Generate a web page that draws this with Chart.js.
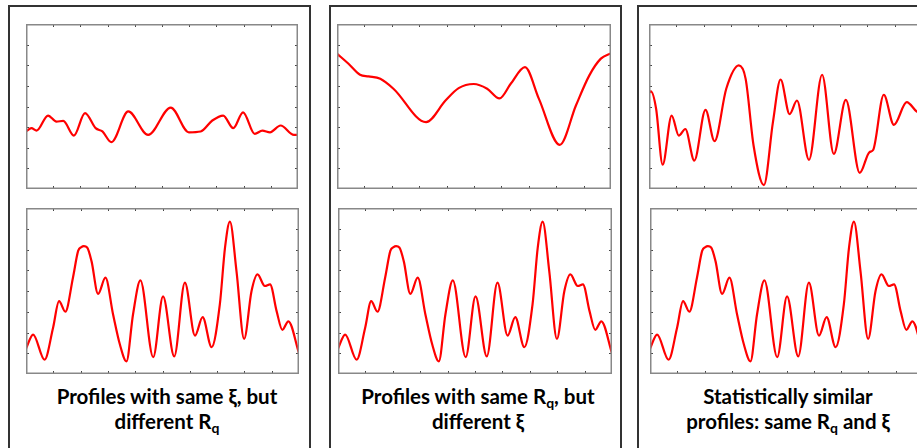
<!DOCTYPE html>
<html>
<head>
<meta charset="utf-8">
<script src="https://cdn.jsdelivr.net/npm/chart.js@4.4.1/dist/chart.umd.min.js"></script>
<style>
  body { margin: 0; background: #fff; }
  #stage { position: relative; width: 917px; height: 448px; overflow: hidden; background: #fff; }
  .frame { position: absolute; border: 2px solid #333; border-bottom: none; }
  .plot { position: absolute; }
  .caption { position: absolute; width: 320px; text-align: center; font-family: Lato, "Open Sans", sans-serif;
             font-weight: bold; font-size: 20.5px; line-height: 25px; color: #000; white-space: nowrap; }
  .caption sub { font-size: 14px; vertical-align: -4px; line-height: 0; }
</style>
</head>
<body>
<div id="stage"></div>
<script>
// profile 1: short correlation length, small Rq
const flatX = [0, 0.2, 0.39, 0.81, 1.12, 1.37, 1.76, 2.17, 2.56, 2.81, 3.14, 3.76, 4.49, 5.32, 5.99, 6.42, 6.85, 7.25, 7.62, 7.98, 8.41, 8.69, 8.97, 9.36, 9.85, 10];
const flatY = [2.79, 2.95, 2.83, 3.56, 3.27, 3.30, 2.59, 3.68, 2.95, 2.79, 2.27, 3.76, 2.62, 3.95, 2.75, 2.79, 3.32, 3.56, 2.95, 3.72, 2.67, 2.83, 2.75, 3.08, 2.62, 2.62];

// profile 2: same Rq, long correlation length
const longX = [0, 0.42, 0.84, 1.15, 1.58, 2.06, 3.25, 3.96, 4.44, 4.99, 5.48, 5.93, 6.34, 6.86, 7.37, 8.13, 8.72, 9.21, 9.63, 10];
const longY = [6.56, 6.07, 5.54, 5.46, 5.34, 4.86, 3.24, 4.29, 4.89, 5.09, 4.86, 4.39, 5.10, 5.91, 4.37, 2.14, 4.05, 5.51, 6.32, 6.58];

// profile 3: statistically similar to the reference profile
const simX = [0, 0.07, 0.26, 0.50, 0.83, 1.09, 1.33, 1.66, 2.07, 2.40, 2.83, 3.29, 3.54, 3.83, 4.21, 4.54, 4.82, 5.15, 5.42, 5.86, 6.34, 6.77, 7.21, 7.72, 8.07, 8.21, 8.60, 8.97, 9.44, 9.80, 10];
const simY = [4.66, 4.73, 3.89, 1.18, 3.56, 2.59, 2.91, 1.38, 3.84, 2.32, 4.86, 5.99, 5.34, 2.11, 0.19, 3.24, 5.31, 3.63, 4.29, 1.41, 5.54, 1.70, 4.32, 0.78, 1.78, 1.89, 4.57, 3.11, 4.21, 3.76, 3.60];

// reference profile (bottom row, same in all three panels)
const refX = [0, 0.26, 0.68, 0.99, 1.21, 1.44, 1.72, 1.91, 2.03, 2.12, 2.24, 2.40, 2.64, 2.91, 3.19, 3.44, 3.68, 3.92, 4.19, 4.66, 5.02, 5.43, 5.82, 6.19, 6.47, 6.80, 7.10, 7.29, 7.47, 7.71, 7.99, 8.26, 8.48, 8.75, 8.94, 9.18, 9.39, 9.61, 10];
const refY = [1.22, 1.90, 0.69, 2.22, 3.51, 3.00, 4.64, 5.93, 6.12, 6.16, 6.10, 5.44, 3.86, 4.64, 2.87, 1.42, 0.61, 2.87, 4.51, 0.81, 3.74, 0.85, 4.40, 1.85, 2.74, 1.29, 3.35, 6.09, 7.34, 4.96, 1.69, 3.99, 4.80, 4.24, 4.32, 3.03, 2.13, 2.54, 1.00];

const xTicks = [0, 1, 2, 3, 4, 5, 6, 7, 8, 9, 10];
const yTicks = [0, 1, 2, 3, 4, 5, 6, 7, 8];

const captions = [
  ['Profiles with same ξ, but', 'different R<sub>q</sub>'],
  ['Profiles with same R<sub>q</sub>, but', 'different ξ'],
  ['Statistically similar', 'profiles: same R<sub>q</sub> and ξ']
];

const stage = document.getElementById('stage');

// box with inward ticks on all four sides (matlab look)
const boxTicks = {
  id: 'boxTicks',
  afterDatasetsDraw(chart) {
    const { ctx, chartArea: a, scales } = chart;
    ctx.save();
    ctx.strokeStyle = '#444';
    ctx.lineWidth = 1;
    ctx.beginPath();
    xTicks.slice(1, -1).forEach(v => {
      const px = Math.round(scales.x.getPixelForValue(v)) + 0.5;
      ctx.moveTo(px, a.top); ctx.lineTo(px, a.top + 3);
      ctx.moveTo(px, a.bottom); ctx.lineTo(px, a.bottom - 3);
    });
    yTicks.slice(1, -1).forEach(v => {
      const py = Math.round(scales.y.getPixelForValue(v)) + 0.5;
      ctx.moveTo(a.left, py); ctx.lineTo(a.left + 3, py);
      ctx.moveTo(a.right, py); ctx.lineTo(a.right - 3, py);
    });
    ctx.stroke();
    ctx.strokeStyle = '#888';
    ctx.lineWidth = 1.5;
    ctx.strokeRect(a.left + 0.75, a.top + 0.75, a.right - a.left - 1.5, a.bottom - a.top - 1.5);
    ctx.restore();
  }
};

function addChart(left, top, w, h, xs, ys) {
  const div = document.createElement('div');
  div.className = 'plot';
  div.style.left = left + 'px';
  div.style.top = top + 'px';
  const cv = document.createElement('canvas');
  cv.width = w; cv.height = h;
  div.appendChild(cv);
  stage.appendChild(div);
  new Chart(cv.getContext('2d'), {
    type: 'line',
    data: {
      datasets: [{
        data: xs.map((x, i) => ({ x: x, y: ys[i] })),
        borderColor: '#ff0000',
        borderWidth: 2.2,
        pointRadius: 0,
        cubicInterpolationMode: 'monotone',
        fill: false
      }]
    },
    options: {
      responsive: false,
      animation: false,
      layout: { padding: 0 },
      plugins: { legend: { display: false }, tooltip: { enabled: false } },
      scales: {
        x: { type: 'linear', min: 0, max: 10, display: false },
        y: { min: 0, max: 8, display: false }
      }
    },
    plugins: [boxTicks]
  });
}

// outer frames
[[8, 5, 303], [329, 5, 293], [637, 5, 310]].forEach(([l, t, w]) => {
  const f = document.createElement('div');
  f.className = 'frame';
  f.style.left = l + 'px'; f.style.top = t + 'px';
  f.style.width = (w - 4) + 'px'; f.style.height = '460px';
  stage.appendChild(f);
});

addChart(26, 24, 272, 165, flatX, flatY);
addChart(26, 208, 273, 166, refX, refY);
addChart(337, 24, 274, 165, longX, longY);
addChart(338, 208, 274, 166, refX, refY);
addChart(649, 24, 273, 165, simX, simY);
addChart(650, 208, 273, 166, refX, refY);

[167, 478, 788].forEach((cx, i) => {
  captions[i].forEach((line, j) => {
    const c = document.createElement('div');
    c.className = 'caption';
    c.style.left = (cx - 160) + 'px';
    c.style.top = (384 + j * 25) + 'px';
    c.innerHTML = line;
    stage.appendChild(c);
  });
});
</script>
</body>
</html>
